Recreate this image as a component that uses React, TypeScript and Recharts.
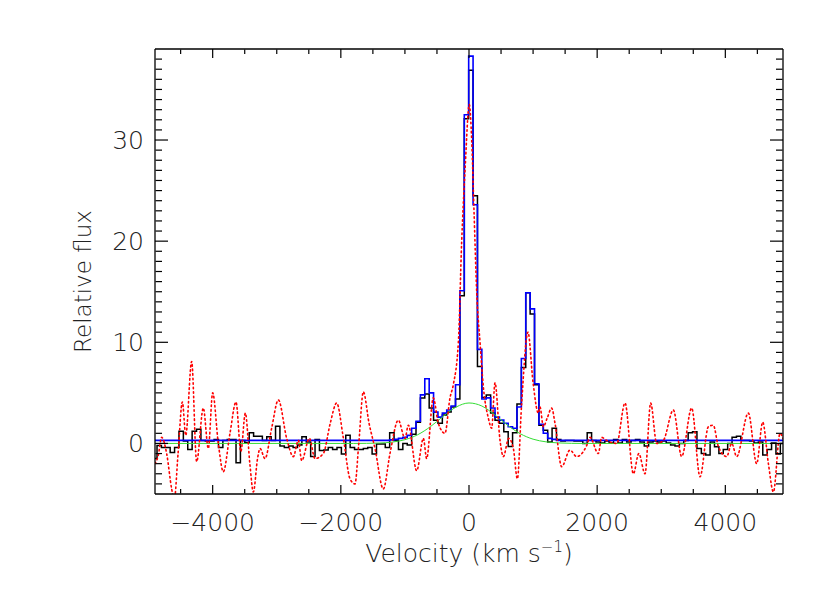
import { LineChart, Line, XAxis, YAxis } from "recharts";

const FONT = "'DejaVu Sans', 'Liberation Sans', sans-serif";
const INK = "#222";

// axis ticks
const X_MAJOR = [-4000, -2000, 0, 2000, 4000];
const X_MINOR = [-4500, -3500, -3000, -2500, -1500, -1000, -500, 500, 1000, 1500, 2500, 3000, 3500, 4500];
const Y_MAJOR = [0, 10, 20, 30];
const Y_MINOR = [
  -4, -3, -2, -1, 1, 2, 3, 4, 5, 6, 7, 8, 9, 11, 12, 13, 14, 15, 16, 17, 18, 19,
  21, 22, 23, 24, 25, 26, 27, 28, 29, 31, 32, 33, 34, 35, 36, 37, 38,
];

// spectrum binning (km/s)
const BIN_FIRST_EDGE = -4937;
const BIN_WIDTH = 68.5;

// observed spectrum, one value per bin (black histogram)
const observedFlux = [
  -1.5, -0.2, -0.4, -0.4, -0.9, -0.4, 1.2, 0.25, -0.6, 1.2, 1.4, 0.3, 0.25, 0.25, 0.4, -0.4,
  0.3, 0.4, 0.4, -1.9, 0.3, 0.1, 1.05, 0.7, 0.7, 0.3, 0.65, 0.3, 1.7, -0.25, -0.4, -0.25,
  -0.4, -0.15, 0.65, 0.15, -1.3, 0.4, -0.7, -0.65, -0.4, -0.6, -0.4, -1.05, 0.8, -0.4, -0.6, -0.6,
  -0.5, -0.4, -1.05, -0.05, -0.05, -0.4, 1.05, 0.3, -0.6, 0.0, -0.15, 0.9, 2.1, 4.5, 4.9, 3.5,
  2.3, 2.0, 2.8, 3.1, 3.6, 4.4, 14.6, 32.1,
  36.9, 24.5, 7.6, 4.55, 4.8, 3.0, 2.3, 2.0, 1.15, -0.3, 1.05, 3.9, 7.5, 14.9, 12.8, 5.8,
  1.8, 1.3, 0.15, 1.5, 0.4, 0.25, 0.3, 0.3, 0.25, 0.25, 0.0, 1.05, 0.3, 0.15, 0.05, 0.25,
  0.05, 0.4, 0.05, 0.4, 0.15, 0.3, 0.4, 0.15, -0.25, 0.15, 0.25, 0.15, 0.25, 0.05, -0.15, -0.25,
  0.0, 0.3, 1.05, 1.15, -0.5, -1.0, -1.15, 0.15, -0.33, -1.0, -0.6, 0.0, 0.6, 0.7, 0.3, 0.3,
  0.25, 0.05, 0.15, -1.15, -0.6, 0.05, -1.05, 0.0,
];

// fitted model, one value per bin (blue histogram)
const modelFlux = [
  0.3, 0.3, 0.3, 0.3, 0.3, 0.3, 0.3, 0.3, 0.3, 0.3, 0.3, 0.3, 0.3, 0.3, 0.3, 0.3,
  0.3, 0.3, 0.3, 0.3, 0.3, 0.3, 0.3, 0.3, 0.3, 0.3, 0.3, 0.3, 0.3, 0.3, 0.3, 0.3,
  0.3, 0.3, 0.3, 0.3, 0.3, 0.3, 0.3, 0.3, 0.3, 0.3, 0.3, 0.3, 0.3, 0.3, 0.3, 0.3,
  0.3, 0.3, 0.3, 0.3, 0.3, 0.3, 0.35, 0.4, 0.5, 0.6, 0.8, 1.5, 2.2, 4.8, 6.4, 5.0,
  3.1, 2.6, 3.0, 3.3, 3.7, 5.8, 15.1, 32.5,
  38.3, 23.6, 9.3, 4.4, 4.5, 3.5, 2.6, 2.3, 2.0, 1.65, 1.5, 3.6, 8.4, 14.9, 13.3, 5.9,
  1.9, 1.0, 0.5, 0.4, 0.3, 0.3, 0.3, 0.3, 0.3, 0.3, 0.3, 0.3, 0.3, 0.3, 0.3, 0.3,
  0.3, 0.3, 0.3, 0.3, 0.3, 0.3, 0.3, 0.3, 0.3, 0.3, 0.3, 0.3, 0.3, 0.3, 0.3, 0.3,
  0.3, 0.3, 0.3, 0.3, 0.3, 0.3, 0.3, 0.3, 0.3, 0.3, 0.3, 0.3, 0.3, 0.3, 0.3, 0.3,
  0.3, 0.3, 0.3, 0.3, 0.3, 0.3, 0.3, 0.3,
];

// broad component (green)
const broadVel = [-4900, -2000, -1800, -1600, -1400, -1200, -1000, -800, -600, -400, -200, 0, 200, 400, 600, 800, 1000, 1200, 1400, 1600, 1800, 2000, 4900];
const broadFlux = [0, 0, 0, 0.01, 0.04, 0.13, 0.37, 0.86, 1.67, 2.69, 3.6, 4.0, 3.7, 2.84, 1.81, 0.96, 0.42, 0.16, 0.05, 0.01, 0, 0, 0];

// comparison profile (red dotted)
const compVel = [
  -4900, -4850, -4796, -4718, -4640, -4600, -4540, -4473, -4420, -4328, -4250, -4146, -4068, -4000, -3912, -3834,
  -3730, -3636, -3560, -3490, -3420, -3365, -3300, -3261, -3183, -3080, -2975, -2845, -2741, -2663, -2611, -2491,
  -2403, -2273, -2165, -2065, -1960, -1857, -1779, -1720, -1649, -1560, -1467, -1337, -1233, -1103, -999, -947,
  -816, -712, -661, -557, -479, -375, -297, -245, -166, -114, -62, 5, 42, 78, 120, 172,
  224, 302, 354, 406, 484, 536, 620, 692, 755, 822, 920, 1000, 1082, 1108, 1160, 1220,
  1290, 1342, 1446, 1576, 1680, 1837, 1888, 2018, 2071, 2148, 2305, 2435, 2565, 2650, 2747, 2835,
  2929, 3033, 3189, 3319, 3475, 3605, 3735, 3813, 3891, 4021, 4100, 4177, 4359, 4489, 4583, 4672,
  4750, 4854, 4900,
];
const compFlux = [
  -2.0, -1.2, 0.6, -1.0, -4.5, -5.6, -1.0, 4.1, 0.8, 8.1, -1.8, 3.5, -0.5, 5.0, 0.0, -2.8,
  1.0, 4.1, -0.8, 3.0, -2.0, -4.8, -1.5, -0.5, -1.5, 1.5, 4.3, 0.5, -1.3, 0.3, -1.7, 0.5,
  -1.5, -1.0, 2.0, 4.0, 0.5, -3.5, -4.0, 0.0, 5.1, 2.0, -0.5, -4.5, -1.0, 2.3, 0.5, 1.8,
  -2.7, 0.5, -1.5, 4.5, 2.0, 1.0, 4.5, 5.8, 10, 20, 27, 33.5, 30, 23, 15, 10,
  5.6, 2.5, 1.5, 6.0, 0.3, -1.3, 0.5, -0.5, -3.5, 4.0, 11, 6, 3.0, 3.6, 1.65, 2.5,
  3.5, 2.0, -2.3, -0.66, -1.3, -0.2, 0.6, -1.0, 0.6, 0.3, 0.0, 4.0, -3.0, -1.0, -3.0, 4.0,
  0.0, 0.3, 3.3, -1.3, 3.5, -3.3, 1.65, 1.8, -0.3, -1.3, 0.0, -1.3, 3.0, -2.0, 2.1, -2.0,
  -4.8, 1.0, 0.5,
];

const histData = observedFlux.map((v, i) => ({
  x: BIN_FIRST_EDGE + i * BIN_WIDTH,
  observed: v,
  model: modelFlux[i],
}));
histData.push({
  x: BIN_FIRST_EDGE + observedFlux.length * BIN_WIDTH,
  observed: observedFlux[observedFlux.length - 1],
  model: modelFlux[modelFlux.length - 1],
});
const broadData = broadVel.map((x, i) => ({ x, y: broadFlux[i] }));
const compData = compVel.map((x, i) => ({ x, y: compFlux[i] }));

const X_DOMAIN: [number, number] = [-4900, 4900];
const Y_DOMAIN: [number, number] = [-5, 39];

const fmtX = (v: number) => (v < 0 ? "\u2212" + Math.abs(v) : String(v));
const noLabel = () => "";

const xTitle = (props: any) => {
  const vb = props.viewBox;
  return (
    <text
      x={vb.x + vb.width / 2}
      y={vb.y + 68}
      textAnchor="middle"
      fontSize={25}
      fontFamily={FONT}
      fontWeight={200}
      fill={INK}
    >
      <tspan>Velocity (km s</tspan>
      <tspan dy={-10} fontSize={15}>{"\u22121"}</tspan>
      <tspan dy={10}>)</tspan>
    </text>
  );
};

const yTitle = (props: any) => {
  const vb = props.viewBox;
  const cx = vb.x + 16;
  const cy = vb.y + vb.height / 2 + 10;
  return (
    <text
      x={cx}
      y={cy}
      transform={`rotate(-90 ${cx} ${cy})`}
      textAnchor="middle"
      fontSize={23}
      fontFamily={FONT}
      fontWeight={200}
      fill={INK}
    >
      Relative flux
    </text>
  );
};

const tickFont = { fontSize: 25, fill: INK, fontFamily: FONT, fontWeight: 200 };
const tickStroke = { stroke: "#000", strokeWidth: 1.2 };
const frame = { stroke: "#000", strokeWidth: 1.3 };
const THIN = 0.5;

export default function App() {
  return (
    <div style={{ position: "absolute", left: 0, top: 0, width: 830, height: 593, background: "#fff" }}>
      <LineChart width={830} height={593} margin={{ top: 49, right: 47, bottom: 39, left: 75 }}>
        {/* labelled axes */}
        <XAxis
          xAxisId="x"
          dataKey="x"
          type="number"
          domain={X_DOMAIN}
          allowDataOverflow
          ticks={X_MAJOR}
          interval={0}
          tickLine={false}
          tickSize={0}
          tickMargin={19}
          tickFormatter={fmtX}
          tick={tickFont}
          axisLine={frame}
          height={60}
          label={xTitle}
        />
        <YAxis
          yAxisId="y"
          type="number"
          domain={Y_DOMAIN}
          allowDataOverflow
          ticks={Y_MAJOR}
          interval={0}
          tickLine={false}
          tickSize={0}
          tickMargin={11}
          tick={tickFont}
          axisLine={frame}
          width={80}
          label={yTitle}
        />

        {/* inward tick marks on all four sides (mirrored, empty labels) */}
        <XAxis xAxisId="xbM" mirror height={THIN} dataKey="x" type="number" domain={X_DOMAIN} allowDataOverflow ticks={X_MAJOR} interval={0} tickFormatter={noLabel} tickSize={9} axisLine={false} tickLine={tickStroke} />
        <XAxis xAxisId="xbm" mirror height={THIN} dataKey="x" type="number" domain={X_DOMAIN} allowDataOverflow ticks={X_MINOR} interval={0} tickFormatter={noLabel} tickSize={4.5} axisLine={false} tickLine={tickStroke} />
        <XAxis xAxisId="xtM" mirror height={THIN} orientation="top" dataKey="x" type="number" domain={X_DOMAIN} allowDataOverflow ticks={X_MAJOR} interval={0} tickFormatter={noLabel} tickSize={9} axisLine={frame} tickLine={tickStroke} />
        <XAxis xAxisId="xtm" mirror height={THIN} orientation="top" dataKey="x" type="number" domain={X_DOMAIN} allowDataOverflow ticks={X_MINOR} interval={0} tickFormatter={noLabel} tickSize={4.5} axisLine={false} tickLine={tickStroke} />
        <YAxis yAxisId="ylM" mirror width={THIN} type="number" domain={Y_DOMAIN} allowDataOverflow ticks={Y_MAJOR} interval={0} tickFormatter={noLabel} tickSize={13} axisLine={false} tickLine={tickStroke} />
        <YAxis yAxisId="ylm" mirror width={THIN} type="number" domain={Y_DOMAIN} allowDataOverflow ticks={Y_MINOR} interval={0} tickFormatter={noLabel} tickSize={6.5} axisLine={false} tickLine={tickStroke} />
        <YAxis yAxisId="yrM" mirror width={THIN} orientation="right" type="number" domain={Y_DOMAIN} allowDataOverflow ticks={Y_MAJOR} interval={0} tickFormatter={noLabel} tickSize={13} axisLine={frame} tickLine={tickStroke} />
        <YAxis yAxisId="yrm" mirror width={THIN} orientation="right" type="number" domain={Y_DOMAIN} allowDataOverflow ticks={Y_MINOR} interval={0} tickFormatter={noLabel} tickSize={6.5} axisLine={false} tickLine={tickStroke} />

        <Line
          xAxisId="x"
          yAxisId="y"
          data={histData}
          dataKey="observed"
          type="stepAfter"
          stroke="#000"
          strokeWidth={1.5}
          dot={false}
          activeDot={false}
          isAnimationActive={false}
        />
        <Line
          xAxisId="x"
          yAxisId="y"
          data={histData}
          dataKey="model"
          type="stepAfter"
          stroke="#0000ff"
          strokeWidth={1.6}
          dot={false}
          activeDot={false}
          isAnimationActive={false}
        />
        <Line
          xAxisId="x"
          yAxisId="y"
          data={broadData}
          dataKey="y"
          type="monotone"
          stroke="#33dd33"
          strokeWidth={1}
          dot={false}
          activeDot={false}
          isAnimationActive={false}
        />
        <Line
          xAxisId="x"
          yAxisId="y"
          data={compData}
          dataKey="y"
          type="monotone"
          stroke="#ff0000"
          strokeWidth={1.6}
          strokeDasharray="1.5 3"
          strokeLinecap="round"
          dot={false}
          activeDot={false}
          isAnimationActive={false}
        />
      </LineChart>
    </div>
  );
}
